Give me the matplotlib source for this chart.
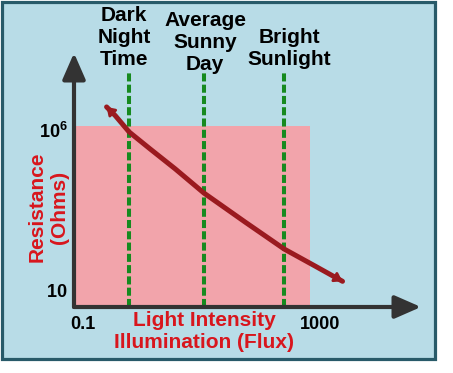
import matplotlib.pyplot as plt
from matplotlib.patches import Rectangle

plt.rcParams['font.family'] = ['Liberation Sans', 'DejaVu Sans']
plt.rcParams['font.weight'] = 'bold'
plt.rcParams['mathtext.fontset'] = 'custom'
plt.rcParams['mathtext.rm'] = 'Liberation Sans'
plt.rcParams['mathtext.bf'] = 'Liberation Sans:bold'

# curve: light intensity (lux) vs LDR resistance (ohms)
lux = [0.25, 0.35, 0.6, 1.35, 3.6, 11, 54, 250, 820, 2400]
ohms = [5.2e6, 2.8e6, 8.7e5, 2.6e5, 6.2e4, 1.1e4, 1400, 200, 60, 20]

# reference light levels
level_lux = [0.6, 11, 250]
level_top = 6.3e7
level_labels = ['Dark\nNight\nTime', 'Average\nSunny\nDay', 'Bright\nSunlight']

# shaded operating range
range_lux = 680
range_ohms = 1.3e6

x_ticks = [0.1, 1000]
x_tick_labels = ['0.1', '1000']
y_ticks = [10, 1e6]
y_tick_labels = [r'$\mathbf{10}$', r'$\mathbf{10^6}$']

W, H = 453, 373
red = '#d8161d'

fig = plt.figure(figsize=(W / 100, H / 100), dpi=100, facecolor='white')
fig.add_artist(Rectangle((1.5 / W, 1 - 358.5 / H), 433 / W, 357 / H,
                         transform=fig.transFigure, facecolor='#b8dce7',
                         edgecolor='#285a69', lw=2.3, zorder=0))

ax = fig.add_axes([74 / W, 1 - 307 / H, (421 - 74) / W, (307 - 53) / H])
ax.set_facecolor('none')
ax.set_xscale('log')
ax.set_yscale('log')
ax.set_xlim(10 ** -1.152, 10 ** 4.705)
ax.set_ylim(10 ** 0.503, 10 ** 8.391)
for s in ax.spines.values():
    s.set_visible(False)

x0 = ax.get_xlim()[0]
y0 = ax.get_ylim()[0]
ax.fill_between([x0, range_lux], y0, range_ohms, color='#f2a4ab', lw=0, zorder=1)

for x in level_lux:
    ax.plot([x, x], [y0, level_top], color='#168a1f', lw=2.9,
            ls=(0, (2, 0.8)), zorder=2)

ax.plot(lux, ohms, color='#9a1a1f', lw=3.6, solid_capstyle='round',
        solid_joinstyle='round', zorder=3)
head = dict(arrowstyle='-|>,head_length=0.45,head_width=0.3', mutation_scale=10,
            color='#9a1a1f', lw=2, shrinkA=0, shrinkB=0)
ax.annotate('', xy=(lux[0], ohms[0]), xytext=(lux[1], ohms[1]),
            arrowprops=head, zorder=3)
ax.annotate('', xy=(lux[-1], ohms[-1]), xytext=(lux[-2], ohms[-2]),
            arrowprops=head, zorder=3)

# axis arrows
arrow = dict(arrowstyle='-|>,head_length=0.8,head_width=0.35', mutation_scale=20,
             color='#333333', lw=3, shrinkA=0, shrinkB=0)
ax.annotate('', xy=(1, 0), xycoords='axes fraction', xytext=(0, 0),
            textcoords='axes fraction', arrowprops=arrow, zorder=4)
ax.annotate('', xy=(0, 1), xycoords='axes fraction', xytext=(0, 0),
            textcoords='axes fraction', arrowprops=arrow, zorder=4)

ax.set_xticks(x_ticks, x_tick_labels)
ax.set_yticks(y_ticks, y_tick_labels)
ax.minorticks_off()
ax.tick_params(axis='x', length=0, pad=6.5, labelsize=13)
ax.tick_params(axis='y', length=0, pad=4.5, labelsize=13)

for (cx, ty), label in zip([(124, 6), (205, 11), (289, 28)], level_labels):
    fig.text(cx / W, 1 - ty / H, label, ha='center', va='top', fontsize=15,
             fontweight='bold', color='black', linespacing=1.2)

fig.text(204 / W, 1 - 311 / H, 'Light Intensity\nIllumination (Flux)', ha='center',
         va='top', fontsize=15, fontweight='bold', color=red, linespacing=1.2)
fig.text(48 / W, 1 - 207 / H, 'Resistance\n(Ohms)', ha='center', va='center',
         rotation=90, fontsize=15, fontweight='bold', color=red, linespacing=1.25)

fig.savefig('out.png', dpi=100)
